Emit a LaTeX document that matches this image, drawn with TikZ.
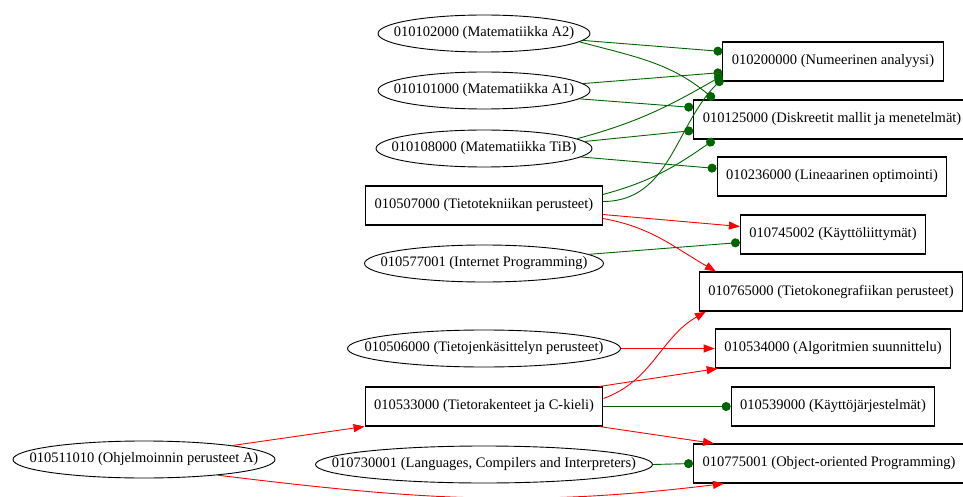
\documentclass[tikz,border=0pt]{standalone}
\usepackage{fontspec}
\setmainfont{Liberation Serif}
\usetikzlibrary{arrows.meta,positioning,calc,shapes.geometric}
\definecolor{KurssiVihrea}{HTML}{006400}
\definecolor{KurssiPuna}{HTML}{FF0000}

\begin{document}
\begin{tikzpicture}[x=1pt,y=-1pt,font=\fontsize{14.5}{17}\selectfont,
  kurssi/.style={draw,rectangle,line width=1.1pt,minimum height=39pt,inner xsep=9pt},
  esitieto/.style={draw,ellipse,line width=0.9pt,minimum height=37pt,inner xsep=-50pt,inner ysep=0pt},
  suositus/.style={KurssiVihrea,line width=0.9pt,-{Circle[length=9pt]}},
  vaatii/.style={KurssiPuna,line width=0.9pt,-{Triangle[length=11pt,width=8pt]}}]
  \useasboundingbox (0,-1.5) rectangle (963,495.5);
  % vasen sarake
  \node[esitieto,minimum width=212pt] (a2) at (484,32) {010102000 (Matematiikka A2)};
  \node[esitieto,minimum width=212pt] (a1) at (484,89) {010101000 (Matematiikka A1)};
  \node[esitieto,minimum width=216pt] (tib) at (484,147) {010108000 (Matematiikka TiB)};
  \node[kurssi] (tietotek) at (484,204) {010507000 (Tietotekniikan perusteet)};
  \node[esitieto,minimum width=239pt] (internet) at (484,262) {010577001 (Internet Programming)};
  \node[esitieto,minimum width=273pt] (tietojenk) at (484,347) {010506000 (Tietojenkäsittelyn perusteet)};
  \node[kurssi] (tirak) at (484,405) {010533000 (Tietorakenteet ja C-kieli)};
  \node[esitieto,minimum width=262pt] (ohjpa) at (144,458) {010511010 (Ohjelmoinnin perusteet A)};
  \node[esitieto,minimum width=337pt] (kaantajat) at (484,463) {010730001 (Languages, Compilers and Interpreters)};
  % oikea sarake
  \node[kurssi] (numanal) at (833,60) {010200000 (Numeerinen analyysi)};
  \node[kurssi] (diskr) at (832,118) {010125000 (Diskreetit mallit ja menetelmät)};
  \node[kurssi] (linopt) at (832,175) {010236000 (Lineaarinen optimointi)};
  \node[kurssi] (kali) at (833,233) {010745002 (Käyttöliittymät)};
  \node[kurssi] (grafiikka) at (831,290) {010765000 (Tietokonegrafiikan perusteet)};
  \node[kurssi] (algo) at (833,347) {010534000 (Algoritmien suunnittelu)};
  \node[kurssi] (kj) at (833,405) {010539000 (Käyttöjärjestelmät)};
  \node[kurssi] (oop) at (829,462) {010775001 (Object-oriented Programming)};
  % suositellut
  \draw[suositus] (a2.-4) -- ($(numanal.west)+(0,-10)$);
  \draw[suositus] (a2.-5) to[out=-15,in=140] ($(diskr.north west)+(21,0)$);
  \draw[suositus] (a1.4) -- ($(numanal.west)+(0,11)$);
  \draw[suositus] (a1.-5) -- ($(diskr.west)+(0,-12)$);
  \draw[suositus] (tib.6) to[out=15,in=210] ($(numanal.west)+(0,14)$);
  \draw[suositus] (tib.4) -- ($(diskr.west)+(0,11)$);
  \draw[suositus] (tib.-5) -- ($(linopt.west)+(0,-8)$);
  \draw[suositus] ($(tietotek.east)+(0,-4)$) to[out=0,in=225] ($(numanal.west)+(0,17)$);
  \draw[suositus] ($(tietotek.east)+(0,-11)$) to[out=15,in=215] ($(diskr.south west)+(21,0)$);
  \draw[suositus] (internet.5) -- ($(kali.west)+(0,8)$);
  \draw[suositus] (tirak.east) -- (kj.west);
  \draw[suositus] (kaantajat.east) -- (oop.west);
  % pakolliset
  \draw[vaatii] ($(tietotek.east)+(0,9)$) -- ($(kali.west)+(0,-8)$);
  \draw[vaatii] ($(tietotek.east)+(0,13)$) to[out=-10,in=150] ($(grafiikka.north west)+(17,0)$);
  \draw[vaatii] (tietojenk.east) -- (algo.west);
  \draw[vaatii] ($(tirak.north east)+(-4,0)$) -- ($(algo.south west)+(3,0)$);
  \draw[vaatii] ($(tirak.east)+(0,-8)$) to[out=20,in=210] ($(grafiikka.south west)+(7,0)$);
  \draw[vaatii] ($(tirak.south east)+(-4,0)$) -- ($(oop.north west)+(21,0)$);
  \draw[vaatii] (ohjpa.9) -- (tirak.south west);
  \draw[vaatii] (ohjpa.-12) to[out=-7,in=187] ($(oop.south west)+(31,0)$);
\end{tikzpicture}
\end{document}
